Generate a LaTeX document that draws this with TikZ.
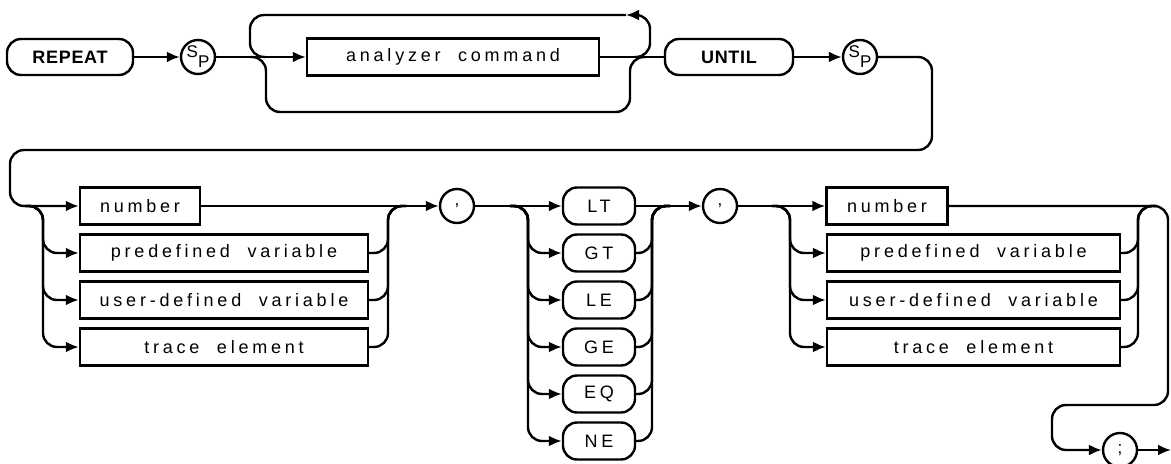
\documentclass[tikz,border=0pt]{standalone}
\usepackage{fontspec}
\usepackage{tikz}
\usetikzlibrary{arrows.meta}
\newfontfamily\hpfont[LetterSpace=21,WordSpace=2]{Liberation Sans}
\newfontfamily\hpkey[LetterSpace=4]{Liberation Sans}
\newcommand\sptext{\raisebox{2.5pt}{S}\raisebox{-2.5pt}{P}}
\tikzset{
  rl/.style={line width=1.2pt,rounded corners=7pt},
  ar/.style={rl,-{Latex[length=6.5pt,width=5.5pt]}},
  bx/.style={draw,line width=1.2pt,inner sep=0pt,minimum height=18.5pt,font=\fontsize{9}{10}\selectfont\hpfont},
  kw/.style={bx,rounded corners=7pt,minimum height=18pt,font=\fontsize{9}{10}\selectfont\hpkey\bfseries},
  cmpbox/.style={bx,rounded corners=7pt},
  ci/.style={circle,draw,line width=1.2pt,minimum size=17pt,inner sep=0pt,font=\fontsize{8.5}{9}\selectfont\hpkey}
}

\begin{document}
\begin{tikzpicture}[x=0.5pt,y=-0.5pt]
\useasboundingbox (0,0) rectangle (1171,464);
% first row
\node[kw,minimum width=63pt] (rep) at (70,57) {REPEAT};
\node[ci] (sp1) at (198,57) {\sptext};
\node[bx,minimum width=146pt] (cmd) at (453,57) {analyzer command};
\node[kw,minimum width=64pt] (until) at (729,57) {UNTIL};
\node[ci] (sp2) at (860,57) {\sptext};
\coordinate (ja) at (250,57);
\coordinate (jb) at (650,57);
\coordinate (jc) at (266,57);
\coordinate (jd) at (630,57);
\coordinate (lpt) at (626,15);
\coordinate (lpb) at (450,112);
\draw[ar] (rep) -- (sp1);
\draw[ar] (sp1) -- (cmd);
\draw[rl] (cmd) -- (until);
\draw[ar] (until) -- (sp2);
\draw[ar] ([xshift=-8pt]jb) -- (jb) |- (lpt);
\draw[rl] (lpt) -| (ja) -- ([xshift=8pt]ja);
\draw[rl] ([xshift=-8pt]jc) -- (jc) |- (lpb) -| (jd) -- ([xshift=8pt]jd);
% second row
\coordinate (ret1) at (932,150);
\coordinate (ret2) at (10,150);
\node[bx,minimum width=60pt] (num1) at (140,206) {number};
\node[bx,minimum width=144pt] (pre1) at (224,253) {predefined variable};
\node[bx,minimum width=144pt] (usr1) at (224,300) {user-defined variable};
\node[bx,minimum width=144pt] (trc1) at (224,347) {trace element};
\node[ci] (cma1) at (457,206) {,};
\foreach \t [count=\i from 0] in {LT,GT,LE,GE,EQ,NE}
  \node[cmpbox,minimum width=36pt] (c\t) at (599,{206+47*\i}) {\t};
\node[ci] (cma2) at (720,206) {,};
\node[bx,minimum width=60.5pt] (num2) at (887,206) {number};
\node[bx,minimum width=146.5pt] (pre2) at (973.5,253) {predefined variable};
\node[bx,minimum width=146.5pt] (usr2) at (973.5,300) {user-defined variable};
\node[bx,minimum width=146.5pt] (trc2) at (973.5,347) {trace element};
\node[ci] (semi) at (1120,450) {;};
\coordinate (la) at (43,206);
\coordinate (ra) at (388,206);
\coordinate (lb) at (528,206);
\coordinate (rb) at (652,206);
\coordinate (lc) at (790,206);
\coordinate (rc) at (1138,206);
\coordinate (eb) at (1168,405);
\coordinate (ec) at (1052,405);
\coordinate (out) at (1171,450);
\draw[ar] (sp2.east) -| (ret1) -- (ret2) |- (num1.west);
\foreach \b in {pre1,usr1,trc1} {
  \draw[ar] ([xshift=-9pt]la) -- (la) |- (\b.west);
  \draw[rl] (\b.east) -| (ra) -- ([xshift=9pt]ra);
}
\draw[ar] (num1) -- (cma1);
\draw[ar] (cma1) -- (cLT);
\foreach \b in {cGT,cLE,cGE,cEQ,cNE} {
  \draw[ar] ([xshift=-9pt]lb) -- (lb) |- (\b.west);
  \draw[rl] (\b.east) -| (rb) -- ([xshift=9pt]rb);
}
\draw[ar] (cLT) -- (cma2);
\draw[ar] (cma2) -- (num2);
\foreach \b in {pre2,usr2,trc2} {
  \draw[ar] ([xshift=-9pt]lc) -- (lc) |- (\b.west);
  \draw[rl] (\b.east) -| (rc) -- ([xshift=9pt]rc);
}
\draw[ar] (num2.east) -| (eb) -- (ec) |- (semi.west);
\draw[ar] (semi) -- (out);
\end{tikzpicture}
\end{document}
